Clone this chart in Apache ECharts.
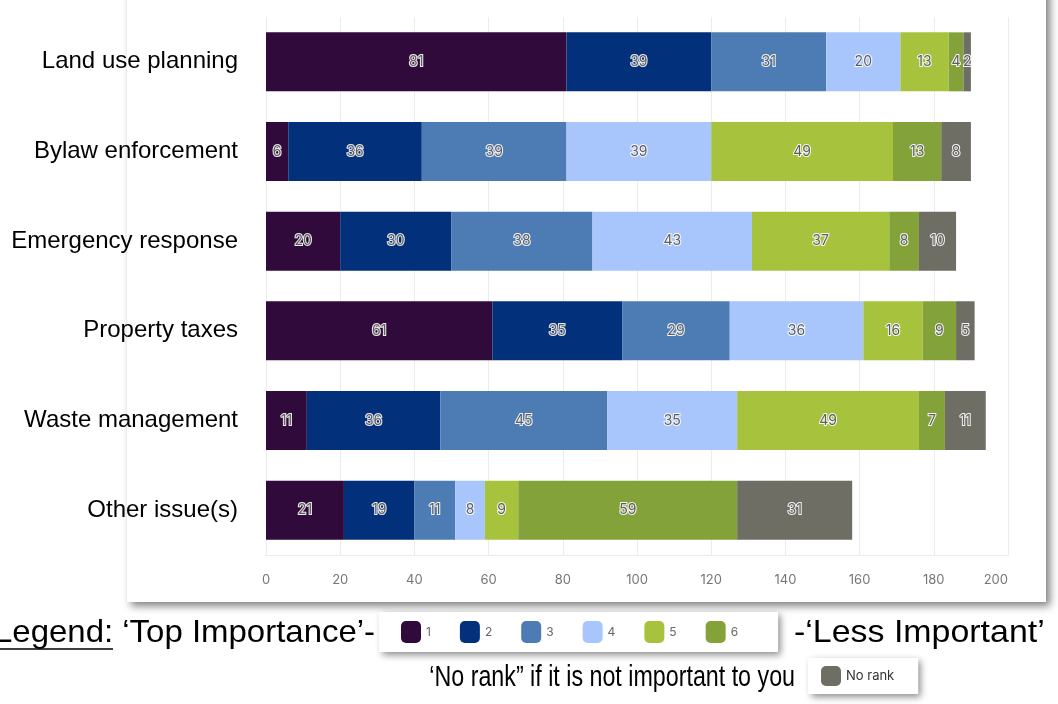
<!DOCTYPE html>
<html>
<head>
<meta charset="utf-8">
<title>Issue ranking</title>
<script src="https://cdn.jsdelivr.net/npm/echarts@6/dist/echarts.min.js"></script>
<style>
  html, body { margin: 0; padding: 0; background: #ffffff; }
  #chart { width: 1058px; height: 704px; }
</style>
</head>
<body>
<div id="chart"></div>
<script>
// Issues, top to bottom
const categories = ['Land use planning', 'Bylaw enforcement', 'Emergency response', 'Property taxes', 'Waste management', 'Other issue(s)'];

// Number of respondents giving each rank
const rank1 = [81, 6, 20, 61, 11, 21];
const rank2 = [39, 36, 30, 35, 36, 19];
const rank3 = [31, 39, 38, 29, 45, 11];
const rank4 = [20, 39, 43, 36, 35, 8];
const rank5 = [13, 49, 37, 16, 49, 9];
const rank6 = [4, 13, 8, 9, 7, 59];
const noRank = [2, 8, 10, 5, 11, 31];

const seriesNames = ['1', '2', '3', '4', '5', '6', 'No rank'];
const seriesValues = [rank1, rank2, rank3, rank4, rank5, rank6, noRank];
const seriesColors = ['#2f0a3b', '#02307a', '#4d7cb5', '#a8c6fb', '#a7c23c', '#84a23a', '#6e6e64'];

const xTicks = { min: 0, max: 200, interval: 20 };

const chart = echarts.init(document.getElementById('chart'), null, { renderer: 'canvas' });

const bodyFont = '"Liberation Sans", Arial, sans-serif';
const axisFont = 'Inter, "Noto Sans", sans-serif';

const legendBase = {
  orient: 'horizontal',
  selectedMode: false,
  icon: 'roundRect',
  backgroundColor: '#ffffff',
  shadowBlur: 7,
  shadowColor: 'rgba(0,0,0,0.45)',
  shadowOffsetX: 3,
  shadowOffsetY: 3,
  textStyle: { fontSize: 12, color: '#666', fontFamily: axisFont }
};

const legendText = (text, x, y, align, size, sx) => ({
  type: 'text',
  x: x,
  y: y,
  scaleX: sx,
  z: 10,
  style: {
    text: text,
    font: size + 'px "Liberation Sans", Arial, sans-serif',
    fill: '#000',
    textAlign: align,
    textVerticalAlign: 'middle'
  }
});

const option = {
  backgroundColor: '#ffffff',
  animation: false,
  grid: { left: 266, right: 50, top: 17, bottom: 149 },
  xAxis: {
    type: 'value',
    min: xTicks.min,
    max: xTicks.max,
    interval: xTicks.interval,
    axisLine: { show: true, lineStyle: { color: '#ececec' } },
    axisTick: { show: false },
    splitLine: { show: true, lineStyle: { color: '#ececec', width: 1 } },
    axisLabel: {
      margin: 19,
      fontSize: 13,
      color: '#767676',
      fontFamily: axisFont,
      alignMaxLabel: 'right'
    }
  },
  yAxis: {
    type: 'category',
    inverse: true,
    data: categories,
    axisLine: { show: false },
    axisTick: { show: false },
    splitLine: { show: false },
    axisLabel: { margin: 28, fontSize: 24, color: '#000', fontFamily: bodyFont }
  },
  legend: [
    Object.assign({}, legendBase, {
      data: seriesNames.slice(0, 6),
      left: 379, top: 612,
      itemWidth: 20, itemHeight: 22, itemGap: 29,
      padding: [9, 40, 9, 22]
    }),
    Object.assign({}, legendBase, {
      data: ['No rank'],
      left: 808, top: 658,
      itemWidth: 20, itemHeight: 20, itemGap: 10,
      padding: [8, 24, 8, 13],
      textStyle: { fontSize: 13, color: '#333', fontFamily: axisFont }
    })
  ],
  graphic: [
    // white card behind the plot
    {
      type: 'rect',
      z: -10,
      shape: { x: 127, y: -20, width: 919, height: 622 },
      style: { fill: '#ffffff', shadowBlur: 8, shadowOffsetX: 4, shadowOffsetY: 4, shadowColor: 'rgba(0,0,0,0.5)' }
    },
    legendText('Legend: \u2018Top Importance\u2019-', -6, 633, 'left', 32, 1.03),
    { type: 'line', z: 10, shape: { x1: 0, y1: 649, x2: 113, y2: 649 }, style: { stroke: '#000', lineWidth: 1.5 } },
    legendText('-\u2018Less Important\u2019', 794, 633, 'left', 32, 1.06),
    legendText('\u2018No rank\u201d if it is not important to you', 795, 678, 'right', 30, 0.775)
  ],
  series: seriesNames.map((name, i) => ({
    name: name,
    type: 'bar',
    stack: 'total',
    barWidth: 59,
    data: seriesValues[i],
    itemStyle: { color: seriesColors[i] },
    label: {
      show: true,
      position: 'inside',
      fontSize: 14,
      fontFamily: axisFont,
      color: '#5e5e5e',
      textBorderColor: 'rgba(255,255,255,0.9)',
      textBorderWidth: 2
    }
  }))
};

chart.setOption(option);
</script>
</body>
</html>
